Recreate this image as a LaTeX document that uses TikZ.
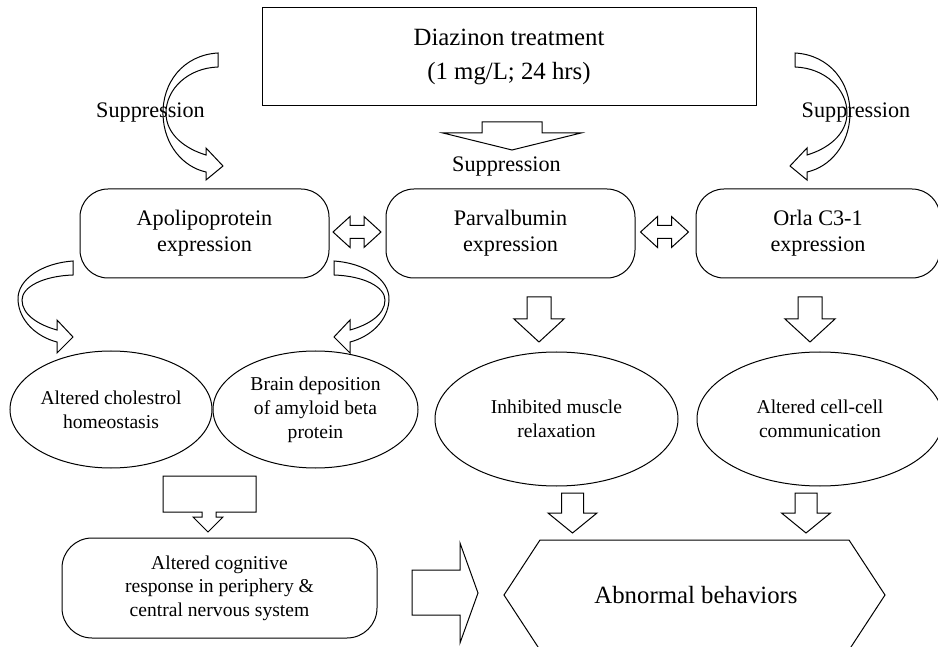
\documentclass[tikz,border=0pt]{standalone}
\usepackage{fontspec}
\setmainfont{Liberation Serif}
\usepackage{tikz}
\usetikzlibrary{positioning,shapes.geometric}

\tikzset{
  box/.style={draw, rounded corners=28pt, minimum width=249pt, minimum height=89pt,
    align=center, font=\fontsize{22.2}{26}\selectfont},
  oval/.style={draw, ellipse, inner sep=0pt, align=center,
    font=\fontsize{19.6}{24}\selectfont},
  lbl/.style={font=\fontsize{22.2}{26}\selectfont},
  blk/.style={draw, fill=white, line join=miter},
  pics/dnarrow/.style args={#1/#2/#3/#4}{code={
    \draw[blk] (-#1,0) -- (#1,0) -- (#1,#3) -- (#2,#3) -- (0,{#3+#4})
      -- (-#2,#3) -- (-#1,#3) -- cycle;
  }},
  pics/dblarrow/.style={code={
    \draw[blk] (-24,0) -- (-7,-15.5) -- (-7,-6.5) -- (7,-6.5) -- (7,-15.5) -- (24,0)
      -- (7,15.5) -- (7,6.5) -- (-7,6.5) -- (-7,15.5) -- cycle;
  }},
  pics/bendtop/.style={code={
    \draw[blk] (0,0) .. controls (-35,2) and (-56,30) .. (-55,62)
      .. controls (-54,92) and (-35,114) .. (-12,119) -- (-12,127) -- (5,113)
      -- (-12,95) -- (-12,102) .. controls (-32,96) and (-52,82) .. (-52,60)
      .. controls (-52,36) and (-30,15) .. (0,14) -- cycle;
  }},
  pics/bendmid/.style={code={
    \draw[blk] (0,0) .. controls (-30,2) and (-56,18) .. (-55,39)
      .. controls (-54,60) and (-36,76) .. (-16,81) -- (-16,92) -- (0,76)
      -- (-16,59) -- (-16,69) .. controls (-34,64) and (-51,54) .. (-51,39)
      .. controls (-51,26) and (-30,15) .. (0,14) -- cycle;
  }},
}

\begin{document}
\begin{tikzpicture}[x=1pt, y=-1pt, line width=1pt]

  \fill[white] (0,0) rectangle (938,647);
  \useasboundingbox (0,0) rectangle (938,647);

  % treatment
  \node[draw, minimum width=494pt, minimum height=98pt, align=center,
    font=\fontsize{24.8}{34}\selectfont] (diaz) at (509,57)
    {Diazinon treatment\\(1 mg/L; 24 hrs)};

  % suppression arrows
  \pic at (218,53) {bendtop};
  \pic[xscale=-1] at (795,53) {bendtop};
  \pic at (512,122) {dnarrow=30/69/11/17};
  \node[lbl] (supl) at (150.5,113) {Suppression};
  \node[lbl] (supr) at (856,113) {Suppression};
  \node[lbl] (supc) at (506.5,167) {Suppression};

  % genes
  \node[box] (apo) at (204.5,233.5) {Apolipoprotein\\expression};
  \node[box] (parv) at (510.5,233.5) {Parvalbumin\\expression};
  \node[box, minimum width=244pt] (orla) at (818,233.5) {Orla C3-1\\expression};
  \pic at (357,232) {dblarrow};
  \pic at (664.5,232) {dblarrow};

  % effects
  \pic at (73,261) {bendmid};
  \pic[xscale=-1] at (334,261) {bendmid};
  \pic at (539,297) {dnarrow=12/25/22/23};
  \pic at (810,297) {dnarrow=12/25/22/23};

  \node[oval, minimum width=202pt, minimum height=117pt] (chol) at (111,409.5)
    {Altered cholestrol\\homeostasis};
  \node[oval, minimum width=205pt, minimum height=117pt] (amy) at (315.5,409.5)
    {Brain deposition\\of amyloid beta\\protein};
  \node[oval, minimum width=243pt, minimum height=134pt] (musc) at (556.5,419)
    {Inhibited muscle\\relaxation};
  \node[oval, minimum width=246pt, minimum height=134pt] (comm) at (820,419)
    {Altered cell-cell\\communication};

  % outcome
  \draw[blk] (163,476) -- (256,476) -- (256,512) -- (216,512) -- (216,517) -- (223,517)
    -- (208,532) -- (193,517) -- (202,517) -- (202,512) -- (163,512) -- cycle;
  \pic at (572.5,493) {dnarrow=11/24.5/20/20};
  \pic at (806,493) {dnarrow=11/24.5/20/20};

  \node[draw, rounded corners=30pt, minimum width=315pt, minimum height=100pt,
    align=center, font=\fontsize{19.6}{23.5}\selectfont] (cogn) at (219.5,588)
    {Altered cognitive\\response in periphery \&\\central nervous system};
  \draw[blk] (412,570) -- (460,570) -- (460,543) -- (478,593) -- (460,643)
    -- (460,615) -- (412,615) -- cycle;

  \draw (540,540) -- (849,540) -- (885,595) -- (849,650) -- (540,650) -- (504,595) -- cycle;
  \node[font=\fontsize{24.8}{30}\selectfont] (abn) at (696,595) {Abnormal behaviors};

\end{tikzpicture}
\end{document}
